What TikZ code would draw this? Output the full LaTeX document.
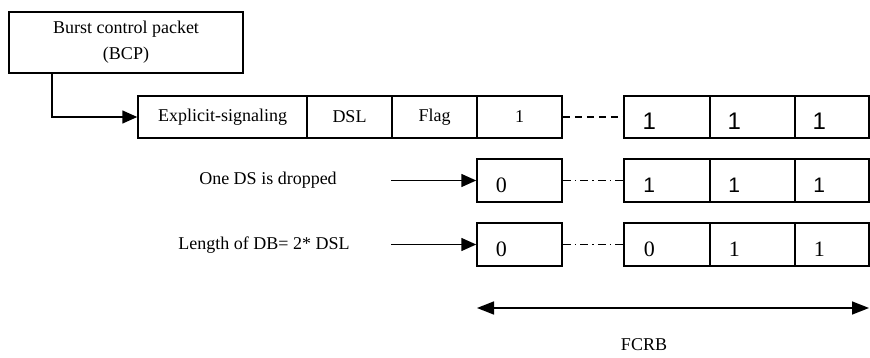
\documentclass[tikz,border=0pt]{standalone}
\usepackage{fontspec}
\setmainfont{Liberation Serif}
\newfontfamily\arialf{Liberation Sans}
\usetikzlibrary{arrows.meta}
\begin{document}
\begin{tikzpicture}[x=1pt,y=-1pt,
  every node/.style={font=\fontsize{18}{26}\selectfont},
  cell/.style={draw, line width=1.5pt, inner sep=0pt, minimum height=42pt},
  bigbox/.style={draw, line width=1.5pt, inner sep=0pt, minimum width=234pt, minimum height=61pt, align=center},
  digsans/.style={font=\arialf\fontsize{24}{24}\selectfont, inner sep=0pt},
  digsansb/.style={font=\arialf\fontsize{21}{21}\selectfont, inner sep=0pt},
  digserif/.style={font=\fontsize{22}{22}\selectfont, inner sep=0pt},
  arr/.style={line width=1.6pt, -{Triangle[length=15pt,width=13pt]}},
  darr/.style={line width=1.6pt, {Triangle[length=17pt,width=13pt]}-{Triangle[length=17pt,width=13pt]}},
  dash1/.style={line width=1.2pt, dash pattern=on 7pt off 5pt},
  dash2/.style={line width=1.1pt, dash pattern=on 8pt off 4pt on 1.5pt off 4pt}
]
\useasboundingbox (0,0) rectangle (870,358);

% BCP
\node[bigbox] (bcp) at (126,42.5) {Burst control packet\\(BCP)};

% Row 1
\node[cell, minimum width=169pt] (es) at (222.5,117) {Explicit-signaling};
\node[cell, minimum width=85pt] (dsl) at (349.5,117) {DSL};
\node[cell, minimum width=85pt] (flag) at (434.5,117) {Flag};
\node[cell, minimum width=85pt] (one) at (519.5,117) {1};
\node[cell, minimum width=86pt] (r1a) at (667,117) {};
\node[cell, minimum width=85pt] (r1b) at (752.5,117) {};
\node[cell, minimum width=74pt] (r1c) at (832,117) {};
\node[digsans] (d1a) at ([xshift=26pt,yshift=-4pt]r1a.west) {1};
\node[digsans] (d1b) at ([xshift=25pt,yshift=-4pt]r1b.west) {1};
\node[digsans] (d1c) at ([xshift=25pt,yshift=-4pt]r1c.west) {1};

\draw[arr] ([xshift=44pt]bcp.south west) |- (es.west);
\draw[dash1] (one.east) -- (r1a.west);

% Row 2
\node (lab2) at (268,180) {One DS is dropped};
\coordinate (s2) at (391,180.5);
\node[cell, minimum width=85pt, minimum height=43pt] (c2) at (519.5,180.5) {};
\node[digserif] (d2z) at ([xshift=25pt,yshift=-5pt]c2.west) {0};
\node[cell, minimum width=86pt, minimum height=43pt] (r2a) at (667,180.5) {};
\node[cell, minimum width=85pt, minimum height=43pt] (r2b) at (752.5,180.5) {};
\node[cell, minimum width=74pt, minimum height=43pt] (r2c) at (832,180.5) {};
\node[digsansb] (d2a) at ([xshift=26pt,yshift=-5pt]r2a.west) {1};
\node[digsansb] (d2b) at ([xshift=25pt,yshift=-5pt]r2b.west) {1};
\node[digsansb] (d2c) at ([xshift=25pt,yshift=-5pt]r2c.west) {1};
\draw[arr] (s2) -- (c2.west);
\draw[dash2] (c2.east) -- (r2a.west);

% Row 3
\node (lab3) at (264,245) {Length of DB= 2* DSL};
\coordinate (s3) at (391,244.5);
\node[cell, minimum width=85pt, minimum height=43pt] (c3) at (519.5,244.5) {};
\node[digserif] (d3z) at ([xshift=25pt,yshift=-5pt]c3.west) {0};
\node[cell, minimum width=86pt, minimum height=43pt] (r3a) at (667,244.5) {};
\node[cell, minimum width=85pt, minimum height=43pt] (r3b) at (752.5,244.5) {};
\node[cell, minimum width=74pt, minimum height=43pt] (r3c) at (832,244.5) {};
\node[digserif] (d3a) at ([xshift=26pt,yshift=-5pt]r3a.west) {0};
\node[digserif] (d3b) at ([xshift=25pt,yshift=-5pt]r3b.west) {1};
\node[digserif] (d3c) at ([xshift=25pt,yshift=-5pt]r3c.west) {1};
\draw[arr] (s3) -- (c3.west);
\draw[dash2] (c3.east) -- (r3a.west);

% FCRB
\coordinate (fl) at (477,308);
\coordinate (fr) at (869,308);
\draw[darr] (fl) -- (fr);
\node (fcrb) at (644,345) {FCRB};
\end{tikzpicture}
\end{document}
